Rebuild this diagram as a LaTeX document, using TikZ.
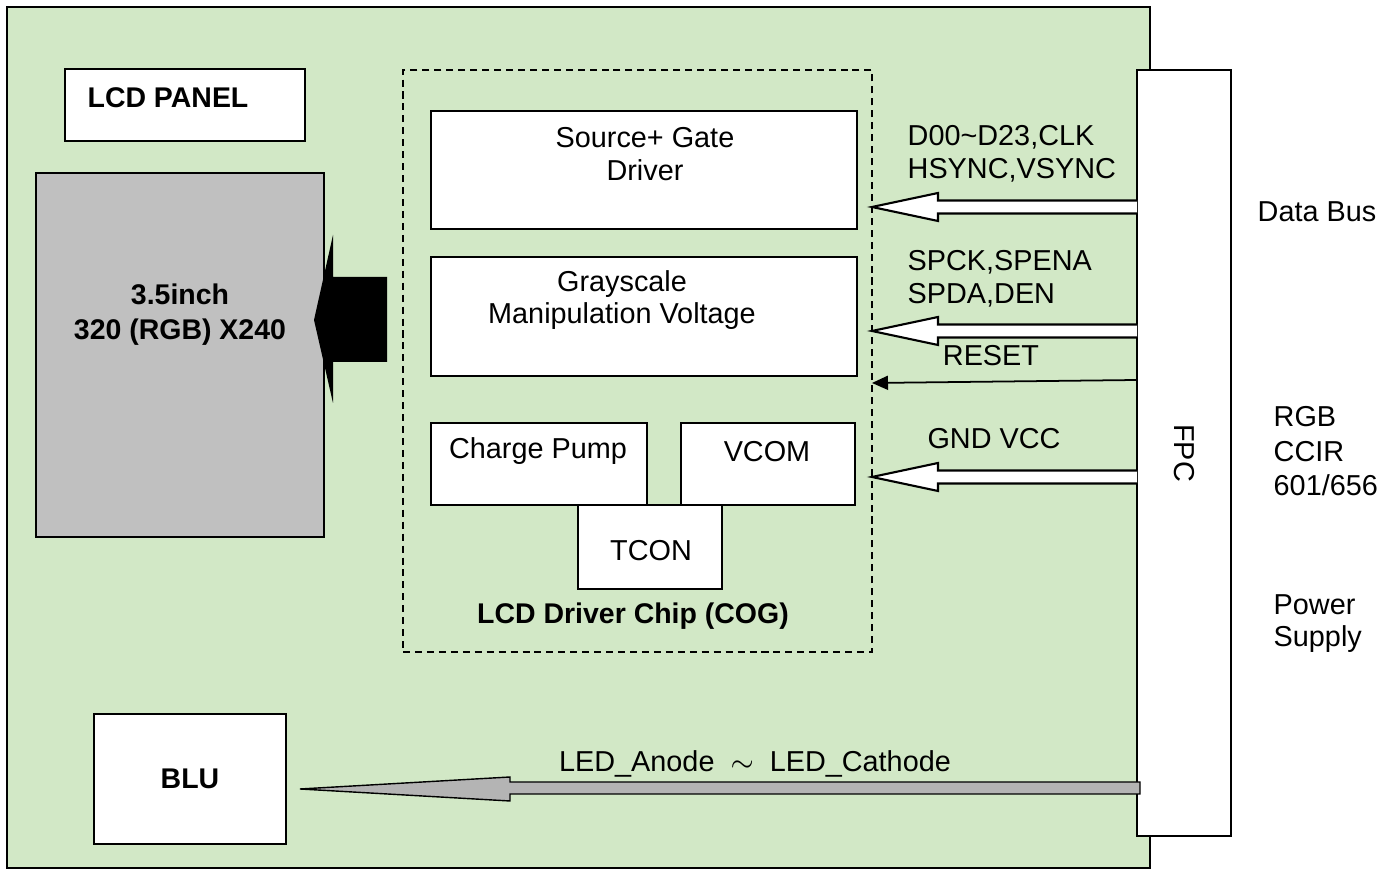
\documentclass[tikz,border=0pt]{standalone}
\usepackage{fontspec}
\setmainfont{Liberation Sans}
\usetikzlibrary{positioning,arrows.meta}
\definecolor{boardgreen}{RGB}{210,232,198}
\definecolor{panelgray}{RGB}{192,192,192}
\definecolor{ledgray}{RGB}{180,180,180}
\tikzset{
  box/.style={draw, fill=white, line width=0.6pt, inner sep=0pt, outer sep=0pt},
  txt/.style={font=\fontsize{8.2}{9.3}\selectfont, inner sep=0pt},
  boldtxt/.style={txt, font=\fontsize{8.1}{10}\selectfont\bfseries},
  hollow/.style={draw, fill=white, line width=0.6pt},
}
\begin{document}
\begin{tikzpicture}[x=0.1mm, y=-0.1mm]
                    \useasboundingbox (0,0) rectangle (1398,872);
                    % Board
                    \node[box, fill=boardgreen, line width=0.8pt, minimum width=114.3mm, minimum height=86.1mm] (board) at (578.5,437.5) {};
                    % LCD panel
                    \node[box, minimum width=24mm, minimum height=7.2mm] (lcdbox) at (185,105) {};
                    \node[boldtxt] (lcdtext) at (168,98) {LCD PANEL};
                    \node[box, fill=panelgray, minimum width=28.8mm, minimum height=36.4mm] (panel) at (180,355) {};
                    \node[boldtxt, align=center] (paneltext) at (180,315) {3.5inch\\320 (RGB) X240};
                    % Driver chip
                    \node[draw, dash pattern=on 2pt off 1.4pt, line width=0.6pt, outer sep=0pt, minimum width=46.9mm, minimum height=58.2mm] (chip) at (637.5,361) {};
                    \node[box, minimum width=42.6mm, minimum height=11.8mm] (src) at (644,170) {};
                    \node[txt, align=center] (srctext) at (645,154) {Source+ Gate\\Driver};
                    \node[box, minimum width=42.6mm, minimum height=11.9mm] (gray) at (644,316.5) {};
                    \node[txt, align=center] (graytext) at (622,300) {Grayscale\\Manipulation Voltage};
                    \node[box, minimum width=21.6mm, minimum height=8.2mm] (pump) at (539,464) {};
                    \node[txt] (pumptext) at (538,451) {Charge Pump};
                    \node[box, minimum width=17.4mm, minimum height=8.2mm] (vcom) at (768,464) {};
                    \node[txt] (vcomtext) at (767,452) {VCOM};
                    \node[box, minimum width=14.4mm, minimum height=8.4mm] (tcon) at (650,547) {};
                    \node[txt] (tcontext) at (651,551) {TCON};
                    \node[boldtxt] (chiptext) at (633,616) {LCD Driver Chip (COG)};
                    % Panel arrow
                    \fill ([xshift=-1.6mm]chip.west |- 0,277) -- (333,277) -- (333,235) -- ([xshift=-1mm]panel.east |- 0,320)
                      -- (333,403) -- (333,362) -- ([xshift=-1.6mm]chip.west |- 0,362) -- cycle;
                    % FPC and BLU
                    \node[box, minimum width=9.4mm, minimum height=76.6mm] (fpc) at (1184,453) {};
                    \node[txt, rotate=-90] (fpctext) at (fpc) {FPC};
                    \node[box, minimum width=19.2mm, minimum height=13mm] (blu) at (190,779) {};
                    \node[boldtxt] (blutext) at (blu) {BLU};
                    % Hollow arrows
                    \foreach \y in {207,331,477}
                      \draw[hollow] (fpc.west |- 0,\y-6.5) -- (938,\y-6.5) -- (938,\y-14) -- (chip.east |- 0,\y)
                        -- (938,\y+14) -- (938,\y+6.5) -- (fpc.west |- 0,\y+6.5);
                    \draw[line width=0.5pt, -{Triangle[length=1.6mm,width=1.4mm]}] (fpc.west |- 0,380) -- (chip.east |- 0,383);
                    % LED arrow
                    \draw[fill=ledgray, line width=0.4pt] ([xshift=0.3mm]fpc.west |- 0,782) -- (510,782) -- (510,777) -- ([xshift=1.4mm]blu.east |- 0,789)
                      -- (510,801) -- (510,794) -- ([xshift=0.3mm]fpc.west |- 0,794) -- cycle;
                    % Signal labels
                    \node[txt, align=left, anchor=west] (dbustext) at (907,153.5) {D00\textasciitilde D23,CLK\\HSYNC,VSYNC};
                    \node[txt, align=left, anchor=west] (spitext) at (907,278.5) {SPCK,SPENA\\SPDA,DEN};
                    \node[txt] (resettext) at (991,356) {RESET};
                    \node[txt] (powertext) at (994,439) {GND VCC};
                    \node[txt] (ledtext) at (755,764) {LED\_Anode \ $\sim$\ \ LED\_Cathode};
                    % Outside labels
                    \node[txt, anchor=west] (dbuslabel) at (1257,212) {Data Bus};
                    \node[txt, align=left, anchor=west, font=\fontsize{8.2}{9.8}\selectfont] (rgblabel) at (1273,451.5) {RGB\\CCIR\\601/656};
                    \node[txt, align=left, anchor=west] (pwrlabel) at (1273,623.5) {Power\\Supply};
                \end{tikzpicture}
\end{document}
